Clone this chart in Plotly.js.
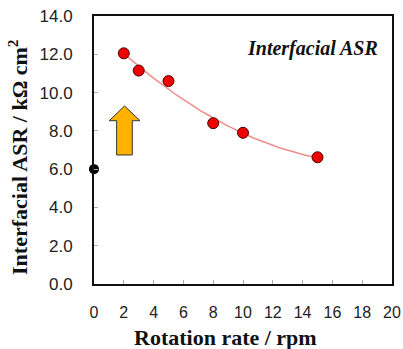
<!DOCTYPE html>
<html><head><meta charset="utf-8">
<script src="https://cdn.plot.ly/plotly-3.0.1.min.js"></script>
<style>html,body{margin:0;padding:0;background:#fff}#chart{width:403px;height:349px}</style>
</head><body><div id="chart"></div>
<script>
// data
var rotationRate = [2, 3, 5, 8, 10, 15];
var interfacialASR = [12.05, 11.15, 10.6, 8.4, 7.9, 6.62];
var staticRate = [0];
var staticASR = [6.0];
var xTicks = [0, 2, 4, 6, 8, 10, 12, 14, 16, 18, 20];
var yTicks = [0, 2, 4, 6, 8, 10, 12, 14];
var yTickLabels = ["0.0", "2.0", "4.0", "6.0", "8.0", "10.0", "12.0", "14.0"];
var xTitle = 'Rotation rate / rpm';
var yTitle = 'Interfacial ASR / kΩ cm<sup>2</sup>';
var insetLabel = 'Interfacial ASR';

// quadratic least-squares trendline through the red points
function polyFit2(xs, ys) {
  var n = xs.length, s = [0,0,0,0,0], t = [0,0,0];
  for (var i = 0; i < n; i++) {
    var p = 1;
    for (var k = 0; k < 5; k++) { s[k] += p; if (k < 3) t[k] += p * ys[i]; p *= xs[i]; }
  }
  var A = [[s[0],s[1],s[2],t[0]],[s[1],s[2],s[3],t[1]],[s[2],s[3],s[4],t[2]]];
  for (var c = 0; c < 3; c++) {
    for (var r = c + 1; r < 3; r++) {
      var f = A[r][c] / A[c][c];
      for (var j = c; j < 4; j++) A[r][j] -= f * A[c][j];
    }
  }
  var b = [0,0,0];
  for (var r2 = 2; r2 >= 0; r2--) {
    var v = A[r2][3];
    for (var j2 = r2 + 1; j2 < 3; j2++) v -= A[r2][j2] * b[j2];
    b[r2] = v / A[r2][r2];
  }
  return b;
}
var coef = polyFit2(rotationRate, interfacialASR);
var fitX = [], fitY = [];
var x0 = rotationRate[0], x1 = rotationRate[rotationRate.length - 1];
for (var i = 0; i <= 60; i++) {
  var xv = x0 + (x1 - x0) * i / 60;
  fitX.push(xv); fitY.push(coef[0] + coef[1] * xv + coef[2] * xv * xv);
}

var traces = [
  {x: fitX, y: fitY, mode: 'lines', line: {color: '#f08c8c', width: 1.5}, hoverinfo: 'skip'},
  {x: rotationRate, y: interfacialASR, mode: 'markers',
   marker: {color: '#ee0000', size: 11, line: {color: '#4a0000', width: 1}}},
  {x: staticRate, y: staticASR, mode: 'markers', cliponaxis: false,
   marker: {color: '#000000', size: 10}}
];

var titleFont = {family: 'Liberation Serif, Times New Roman', size: 22, color: '#111'};
var layout = {
  width: 403, height: 349,
  margin: {l: 94, r: 11, t: 16, b: 65},
  paper_bgcolor: '#fff', plot_bgcolor: '#fff',
  showlegend: false,
  xaxis: {
    range: [0, 20], tickvals: xTicks, ticktext: xTicks.map(String),
    ticks: 'inside', ticklen: 4, tickcolor: '#aaa', tickwidth: 1,
    ticklabelstandoff: 13,
    showline: true, linecolor: '#111', linewidth: 2, mirror: true,
    showgrid: false, zeroline: false,
    tickfont: {family: 'Liberation Sans, Arial', size: 16, color: '#222'}
  },
  yaxis: {
    range: [0, 14], tickvals: yTicks, ticktext: yTickLabels,
    ticks: 'inside', ticklen: 4, tickcolor: '#aaa', tickwidth: 1,
    ticklabelstandoff: 16,
    showline: true, linecolor: '#111', linewidth: 2, mirror: true,
    showgrid: false, zeroline: false,
    tickfont: {family: 'Liberation Sans, Arial', size: 17, color: '#222'}
  },
  shapes: [{
    type: 'path', xref: 'x', yref: 'y',
    path: 'M 1.52 6.74 L 2.57 6.74 L 2.57 8.53 L 3.09 8.53 L 2.05 9.3 L 1.02 8.53 L 1.52 8.53 Z',
    fillcolor: '#ffb300', line: {color: '#333', width: 1}
  }],
  annotations: [{
    xref: 'paper', yref: 'paper', x: 0.96, y: 0.88, xanchor: 'right', yanchor: 'middle',
    text: '<b><i>' + insetLabel + '</i></b>', showarrow: false,
    font: {family: 'Liberation Serif, Times New Roman', size: 20, color: '#111'}
  }, {
    xref: 'paper', yref: 'paper', x: 0.44, y: -0.2, xanchor: 'center', yanchor: 'middle',
    text: '<b>' + xTitle + '</b>', showarrow: false, font: titleFont
  }, {
    xref: 'paper', yref: 'paper', x: -0.255, y: 0.474, xanchor: 'center', yanchor: 'middle',
    textangle: -90, text: '<b>' + yTitle + '</b>', showarrow: false, font: titleFont
  }]
};
Plotly.newPlot('chart', traces, layout, {displayModeBar: false, staticPlot: true});
</script></body></html>
